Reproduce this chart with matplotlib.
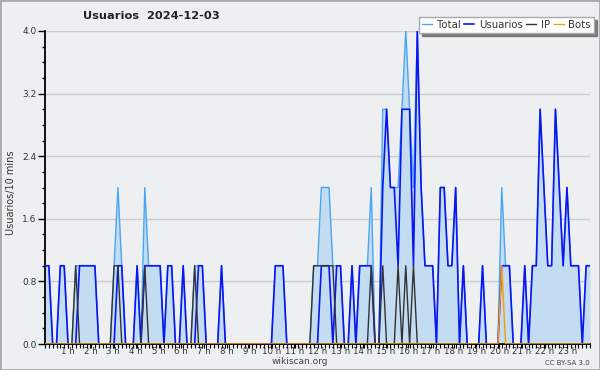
import numpy as np
import matplotlib
matplotlib.use('Agg')
import matplotlib.pyplot as plt
from matplotlib.patches import Rectangle
from matplotlib.ticker import MultipleLocator, FixedLocator

# valores cada 10 minutos (143 muestras, 00:00 -> 24:00)
usuarios = [1, 1, 0, 0, 1, 1, 0, 0, 0, 1, 1, 1, 1, 1, 0, 0, 0, 0, 0, 1,
            1, 0, 0, 0, 1, 0, 1, 1, 1, 1, 1, 0, 1, 1, 0, 0, 1, 0, 0, 0,
            1, 1, 0, 0, 0, 0, 1, 0, 0, 0, 0, 0, 0, 0, 0, 0, 0, 0, 0, 0,
            1, 1, 1, 0, 0, 0, 0, 0, 0, 0, 0, 0, 1, 1, 1, 0, 1, 1, 0, 0,
            1, 0, 1, 1, 1, 1, 0, 0, 2, 3, 2, 2, 1, 3, 3, 3, 1, 4, 2, 1,
            1, 1, 0, 2, 2, 1, 1, 2, 0, 1, 0, 0, 0, 0, 1, 0, 0, 0, 0, 1,
            1, 1, 0, 0, 0, 1, 0, 1, 1, 3, 2, 1, 1, 3, 2, 1, 2, 1, 1, 1,
            0, 1, 1]
ip_idx = [8, 18, 19, 26, 39, 70, 71, 72, 73, 74, 75, 85, 88, 92, 94, 96]
bots_idx = [119]

n = len(usuarios)
ip = np.zeros(n)
ip[ip_idx] = 1
bots = np.zeros(n)
bots[bots_idx] = 1
usuarios = np.array(usuarios, dtype=float)
total = usuarios + ip + bots

horas = np.linspace(0, 24, n)
hour_ticks = list(range(1, 24))
hour_labels = ['%d h' % h for h in hour_ticks]

bg = '#eeeff1'
fig = plt.figure(figsize=(6, 3.7), dpi=100, facecolor=bg)
ax = fig.add_axes([45 / 600, 1 - 344 / 370, 545 / 600, 313 / 370])
ax.set_facecolor(bg)

ax.fill_between(horas, total, color='#c4dcf1', lw=0, zorder=1)
l_total, = ax.plot(horas, total, color='#48a6f2', lw=1.0, zorder=2, label='Total')
l_us, = ax.plot(horas, usuarios, color='#0a16f5', lw=1.2, zorder=3, label='Usuarios')
l_ip, = ax.plot(horas, ip, color='#333333', lw=1.0, zorder=4, label='IP')
l_bots, = ax.plot(horas, bots, color='#ff9a00', lw=1.0, zorder=5, label='Bots')

ax.set_xlim(0, 24)
ax.set_ylim(0, 4.0)
ax.set_yticks([0, 0.8, 1.6, 2.4, 3.2, 4.0])
ax.set_yticklabels(['0.0', '0.8', '1.6', '2.4', '3.2', '4.0'])
ax.yaxis.set_minor_locator(MultipleLocator(0.2))
ax.set_xticks(hour_ticks)
ax.set_xticklabels(hour_labels)
ax.xaxis.set_minor_locator(FixedLocator(horas))

ax.tick_params(axis='y', which='major', length=5, width=1, color='black',
               labelsize=6.5, labelcolor='#333333', pad=1)
ax.tick_params(axis='y', which='minor', length=2.5, width=1, color='black')
ax.tick_params(axis='x', which='both', length=3, width=0.8, color='black',
               labelsize=6.2, labelcolor='#333333', pad=-0.5)

ax.yaxis.grid(True, color='#cccccc', lw=1)
ax.set_axisbelow(True)
for s in ['top', 'right']:
    ax.spines[s].set_visible(False)
for s in ['left', 'bottom']:
    ax.spines[s].set_linewidth(1.3)

fig.text(0.252, 0.957, 'Usuarios  2024-12-03', ha='center', va='center',
         fontsize=8.2, fontweight='bold', color='#222222')
fig.text(0.018, 0.478, 'Usuarios/10 mins', rotation=90, ha='center', va='center',
         fontsize=7, color='#333333')
fig.text(0.5, 1 - 362 / 370, 'wikiscan.org', ha='center', va='center',
         fontsize=6.5, color='#444444')
fig.text(0.983, 1 - 363 / 370, 'CC BY-SA 3.0', ha='right', va='center',
         fontsize=5, color='#444444')

leg = fig.legend([l_total, l_us, l_ip, l_bots], ['Total', 'Usuarios', 'IP', 'Bots'],
                 loc='upper right', bbox_to_anchor=(594 / 600, 1 - 17 / 370),
                 ncol=4, fontsize=7.3, frameon=True, fancybox=False,
                 shadow={'color': '#7a7a7a', 'alpha': 1}, handlelength=1.0,
                 handletextpad=0.45, columnspacing=0.35, borderpad=0.3,
                 borderaxespad=0, edgecolor='#aaaaaa', facecolor='white',
                 framealpha=1)
for t in leg.get_texts():
    t.set_color('#333333')

fig.patches.append(Rectangle((0, 0), 1, 1, transform=fig.transFigure, fill=False,
                             edgecolor='#aaaaaa', lw=2))

fig.savefig('out.png', dpi=100, facecolor=bg)
